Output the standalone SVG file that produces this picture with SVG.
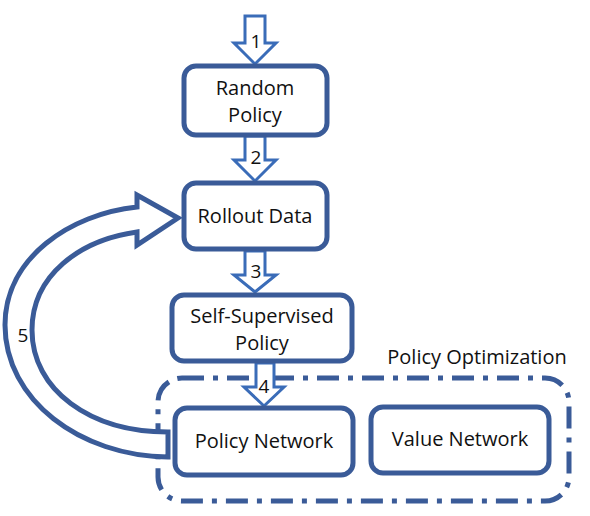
<svg xmlns="http://www.w3.org/2000/svg" width="590" height="516" viewBox="0 0 590 516">
<style>
.box{fill:#fff;stroke:#3a5b98;stroke-width:5}
.arr{fill:#fff;stroke:#3a6cb8;stroke-width:3;stroke-linejoin:miter}
.big{fill:#fff;stroke:#3a5b98;stroke-width:5;stroke-linejoin:miter}
.t{font-family:"Open Sans","Liberation Sans",sans-serif;font-size:20px;fill:#111;text-anchor:middle}
.n{font-family:"Open Sans","Liberation Sans",sans-serif;font-size:19px;fill:#111;text-anchor:middle}
</style>
<rect x="0" y="0" width="590" height="516" fill="#fff"/>
<g id="optimization-group">
<rect x="158" y="378" width="411" height="123" rx="24" fill="none" stroke="#3a5b98" stroke-width="5" stroke-dasharray="22 9 5 9"/>
<text class="t" x="477" y="364">Policy Optimization</text>
</g>
<g id="connectors">
<path class="arr" d="M245 16 H265 V43 H276 L255 64 L234 43 H245 Z"/>
<text class="n" x="256" y="48">1</text>
<path class="arr" d="M245 136 H265 V160 H276 L255 181 L234 160 H245 Z"/>
<text class="n" x="256" y="164">2</text>
<path class="arr" d="M245 251 H265 V275 H276 L255 292 L234 275 H245 Z"/>
<text class="n" x="256" y="278">3</text>
<path class="arr" d="M256 363 H274 V387 H284 L264 406 L244 387 H256 Z"/>
<text class="n" x="264" y="393">4</text>
<path class="big" d="M168 457 C80 456 5 400 5 325 C5 258 70 214 137 207 L137 195 L178 218 L137 245 L137 232 C80 240 32 275 32 330 C32 390 90 432 168 432 Z"/>
<text class="n" x="23" y="342">5</text>
</g>
<g id="random-policy">
<rect class="box" x="184" y="66" width="143" height="69" rx="12"/>
<text class="t" x="255" y="95">Random</text>
<text class="t" x="255" y="122">Policy</text>
</g>
<g id="rollout-data">
<rect class="box" x="184" y="183" width="143" height="66" rx="12"/>
<text class="t" x="255" y="223">Rollout Data</text>
</g>
<g id="self-supervised-policy">
<rect class="box" x="172" y="295" width="180" height="66" rx="12"/>
<text class="t" x="262" y="323">Self-Supervised</text>
<text class="t" x="262" y="350">Policy</text>
</g>
<g id="policy-network">
<rect class="box" x="175" y="408" width="178" height="67" rx="12"/>
<text class="t" x="264" y="448">Policy Network</text>
</g>
<g id="value-network">
<rect class="box" x="371" y="407" width="178" height="66" rx="12"/>
<text class="t" x="460" y="446">Value Network</text>
</g>
</svg>
